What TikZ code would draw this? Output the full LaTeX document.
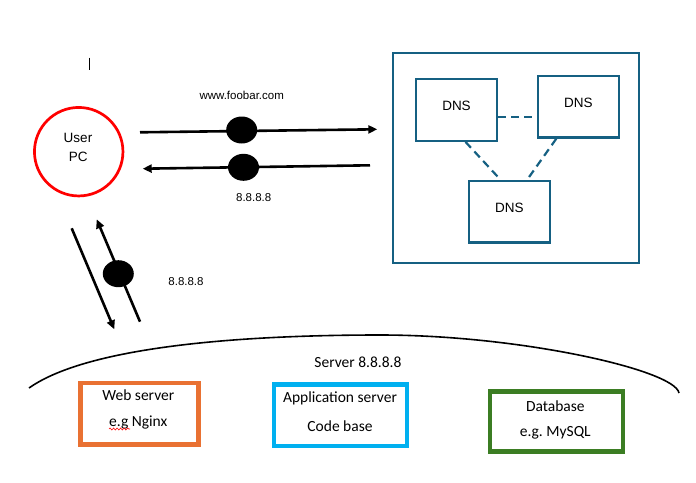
\documentclass[tikz,border=0pt]{standalone}
\usepackage{fontspec}
\setmainfont{Liberation Sans}
\newfontfamily\srvfont{Carlito}
\usetikzlibrary{arrows.meta,shapes.geometric,decorations.pathmorphing}
\definecolor{dnsblue}{HTML}{156082}
\definecolor{weborange}{HTML}{E97132}
\definecolor{appcyan}{HTML}{00B0F0}
\definecolor{dbgreen}{HTML}{3B7D23}
\frenchspacing

\begin{document}
\begin{tikzpicture}[x=1pt,y=-1pt,>={Triangle[length=9pt,width=8pt]},
  flow/.style={line width=2.6pt,->},
  blob/.style={ellipse,fill=black,inner sep=0,minimum width=31pt,minimum height=27pt},
  pcring/.style={circle,draw=red,line width=2.7pt,minimum size=88.5pt,inner sep=0},
  pctext/.style={font=\fontsize{13.5}{16}\selectfont,inner sep=0},
  lbl/.style={font=\fontsize{11.5}{13}\selectfont,inner sep=0},
  dnsbox/.style={draw=dnsblue,line width=2.3pt,minimum width=81pt,minimum height=61.7pt,
    inner sep=0,text depth=8pt,font=\fontsize{13.5}{16}\selectfont},
  dnslink/.style={dnsblue,line width=2.2pt,dash pattern=on 8pt off 5pt},
  srvbox/.style={draw=#1,line width=4.7pt,inner sep=0},
  srvtext/.style={font=\srvfont\fontsize{15.5}{18}\selectfont,inner sep=0}]
  \useasboundingbox (0,0) rectangle (696,482);
  % stray cursor mark
  \coordinate (cur1) at (89.5,57.5);
  \coordinate (cur2) at (89.5,69.5);
  \draw[line width=1pt] (cur1)--(cur2);
  % user pc
  \node[pcring] (pc) at (78.7,151.7) {};
  \node[pctext] (user) at (78,138.3) {User};
  \node[pctext] (pclbl) at (78.3,157.3) {PC};
  % dns cluster
  \node[draw=dnsblue,line width=2.3pt,minimum width=246.3pt,minimum height=209.4pt,inner sep=0] (dnsarea) at (515.9,158) {};
  \node[dnsbox] (dns1) at (456.5,109.9) {DNS};
  \node[dnsbox] (dns2) at (578.3,106.7) {DNS};
  \node[dnsbox] (dns3) at (509.3,211.5) {DNS};
  \coordinate (l1) at ([yshift=-7.4pt]dns1.east);
  \draw[dnslink] (l1)--(l1 -| dns2.west);
  \draw[dnslink] ([xshift=9pt]dns1.south)--([xshift=-9pt]dns3.north);
  \draw[dnslink] ([xshift=-22pt]dns2.south)--([xshift=18pt]dns3.north);
  % request and answer
  \coordinate (a1s) at (140,132.3);
  \coordinate (a1e) at (377.3,129.3);
  \coordinate (a2s) at (370,165.3);
  \coordinate (a2e) at (142.7,168.7);
  \draw[flow] (a1s)--(a1e);
  \draw[flow] (a2s)--(a2e);
  \node[blob] (d1) at (241.7,130) {};
  \node[blob] (d2) at (243.5,167.3) {};
  \node[lbl] (url) at (241.7,95) {www.foobar.com};
  \node[lbl] (ip1) at (253.7,198) {8.8.8.8};
  % to the server
  \coordinate (b1s) at (71.7,228.3);
  \coordinate (b1e) at (114.3,329.3);
  \coordinate (b2s) at (140,321.7);
  \coordinate (b2e) at (96.7,219.3);
  \draw[flow] (b1s)--(b1e);
  \draw[flow] (b2s)--(b2e);
  \node[blob] (d3) at (118.3,273.7) {};
  \node[lbl] (ip2) at (186,281.3) {8.8.8.8};
  % server
  \coordinate (arcL) at (29,388);
  \coordinate (arcT) at (380,335);
  \coordinate (arcR) at (679,393);
  \draw[line width=1.6pt] (arcL) .. controls (90,345) and (250,335) .. (arcT)
    .. controls (520,335) and (675,370) .. (arcR);
  \node[srvtext] (srvlbl) at (358,362.3) {Server 8.8.8.8};
  \node[srvbox=weborange,minimum width=117.6pt,minimum height=61.3pt] (web) at (139.5,413.7) {};
  \node[srvbox=appcyan,minimum width=133pt,minimum height=61.3pt] (app) at (340.5,415.3) {};
  \node[srvbox=dbgreen,minimum width=133pt,minimum height=60.4pt] (db) at (556.5,421.5) {};
  \node[srvtext] (web1) at (138.3,395.3) {Web server};
  \node[srvtext] (web2) at (138.3,422.7) {e.g Nginx};
  \node[srvtext] (app1) at (340,398.3) {Application server};
  \node[srvtext] (app2) at (340,425.7) {Code base};
  \node[srvtext] (db1) at (555.3,406) {Database};
  \node[srvtext] (db2) at (555.3,432.3) {e.g. MySQL};
  \draw[red,line width=0.6pt,decorate,decoration={snake,amplitude=1pt,segment length=3.5pt}]
    (109,429) -- (130,429);
\end{tikzpicture}
\end{document}
